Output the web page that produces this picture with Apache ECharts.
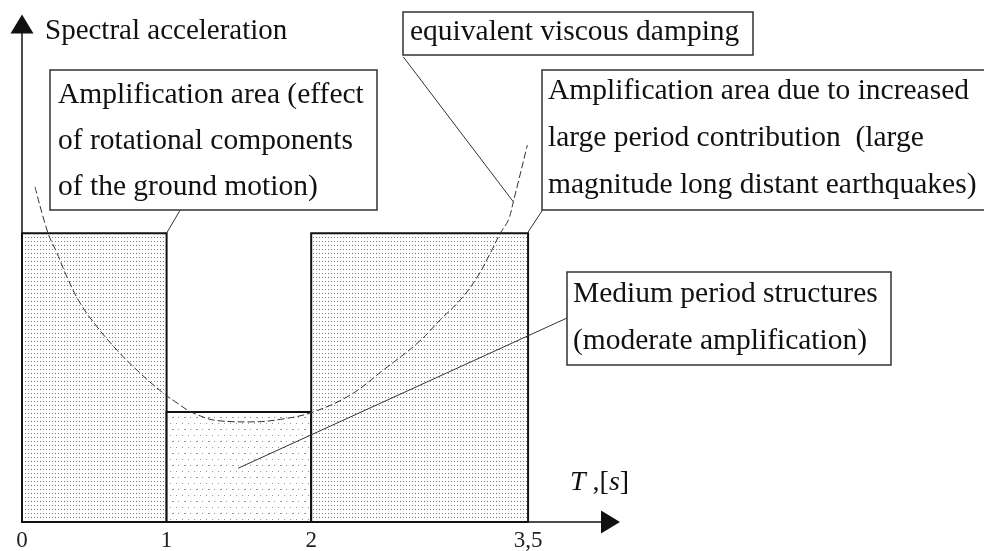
<!DOCTYPE html>
<html>
<head>
<meta charset="utf-8">
<script src="https://cdn.jsdelivr.net/npm/echarts@6/dist/echarts.min.js"></script>
<style>
  html, body { margin: 0; padding: 0; background: #fff; }
  #main { width: 984px; height: 551px; }
</style>
</head>
<body>
<div id="main"></div>
<script>
// period axis ticks
var tickValues = [0, 1, 2, 3.5];
var tickLabels = ["0", "1", "2", "3,5"];

// period bands: start, end, spectral acceleration level
var bandStart = [0, 1, 2];
var bandEnd = [1, 2, 3.5];
var bandLevel = [58, 22.1, 58];

// equivalent viscous damping curve
var curveT = [0.09, 0.18, 0.242, 0.311, 0.401, 0.519, 0.657, 0.817, 0.976, 1.073, 1.183, 1.37, 1.578, 1.806, 2.014, 2.27, 2.498, 2.734, 2.893, 3.031, 3.149, 3.239, 3.308, 3.363, 3.398, 3.495];
var curveA = [67.3, 58.0, 54.0, 49.2, 44.0, 39.2, 34.5, 29.9, 25.9, 23.9, 21.9, 20.3, 20.1, 20.7, 22.1, 25.5, 30.5, 35.9, 40.6, 44.6, 49.2, 54.0, 58.0, 60.6, 64.3, 75.7];

// leader lines from the notes to the chart [t0, a0, t1, a1]
var leaderRotational = [1.093, 62.6, 1.0, 58.0];
var leaderDamping = [2.637, 93.4, 3.398, 64.3];
var leaderLongPeriod = [3.599, 62.6, 3.495, 58.0];
var leaderMedium = [3.772, 41.0, 1.495, 10.8];

function makePattern(w, h, dots, color) {
  var c = document.createElement("canvas");
  c.width = w;
  c.height = h;
  var ctx = c.getContext("2d");
  ctx.fillStyle = "#fff";
  ctx.fillRect(0, 0, w, h);
  ctx.fillStyle = color;
  dots.forEach(function (d) {
    ctx.fillRect(d[0], d[1], 1, 1);
  });
  return { image: c, repeat: "repeat" };
}

var densePattern = makePattern(3, 4, [[1, 1]], "#7a7a7a");
var sparsePattern = makePattern(12, 12, [[2, 3], [8, 3], [4, 9], [5, 9], [10, 9]], "#999");

var serif = '"Liberation Serif", "DejaVu Serif", serif';

var graphics = [];
function addNote(x, y, w, h, lines, tx, ty, gap) {
  graphics.push({
    type: "rect",
    z: 100,
    shape: { x: x, y: y, width: w, height: h },
    style: { fill: "#fff", stroke: "#333", lineWidth: 1.5 }
  });
  lines.forEach(function (t, i) {
    graphics.push({
      type: "text",
      z: 101,
      x: tx,
      y: ty + i * gap,
      style: { text: t, font: "29.5px " + serif, fill: "#111", verticalAlign: "middle" }
    });
  });
}

addNote(50, 70, 327, 140, ["Amplification area (effect", "of rotational components", "of the ground motion)"], 58, 95, 46);
addNote(403, 12, 350, 43, ["equivalent viscous damping"], 410, 32, 0);
addNote(542, 70, 460, 140, ["Amplification area due to increased", "large period contribution  (large", "magnitude long distant earthquakes)"], 548, 91, 47);
addNote(567, 272, 324, 93, ["Medium period structures", "(moderate amplification)"], 573, 294, 47);

graphics.push({
  type: "text",
  x: 45,
  y: 31,
  style: { text: "Spectral acceleration", font: "29px " + serif, fill: "#111", verticalAlign: "middle" }
});
graphics.push({
  type: "text",
  x: 570,
  y: 483,
  style: {
    text: "{i|T}{n| ,[}{i|s}{n|]}",
    verticalAlign: "middle",
    rich: {
      i: { font: "italic 28px " + serif, fill: "#111" },
      n: { font: "28px " + serif, fill: "#111" }
    }
  }
});

function leader(p) {
  return {
    type: "line",
    data: [[p[0], p[1]], [p[2], p[3]]],
    showSymbol: false,
    silent: true,
    z: 5,
    lineStyle: { color: "#333", width: 1 }
  };
}

var myChart = echarts.init(document.getElementById("main"));
myChart.setOption({
  animation: false,
  backgroundColor: "#fff",
  grid: {
    left: 22,
    right: 373.5,
    top: 24,
    bottom: 29,
    outerBoundsMode: "none"
  },
  xAxis: {
    type: "value",
    min: 0,
    max: 4.07,
    axisLine: {
      show: true,
      symbol: ["none", "triangle"],
      symbolSize: [23, 19],
      lineStyle: { color: "#111", width: 1.5 }
    },
    axisTick: { show: false },
    splitLine: { show: false },
    axisLabel: {
      customValues: tickValues,
      formatter: function (v) {
        var i = tickValues.indexOf(v);
        return i >= 0 ? tickLabels[i] : "";
      },
      fontFamily: serif,
      fontSize: 23,
      color: "#222",
      margin: 7
    }
  },
  yAxis: {
    type: "value",
    min: 0,
    max: 100,
    axisLine: {
      show: true,
      symbol: ["none", "triangle"],
      symbolSize: [23, 19],
      lineStyle: { color: "#111", width: 1.5 }
    },
    axisTick: { show: false },
    axisLabel: { show: false },
    splitLine: { show: false }
  },
  series: [
    {
      type: "custom",
      z: 1,
      data: bandStart.map(function (s, i) {
        return [s, bandEnd[i], bandLevel[i], i === 1 ? 1 : 0];
      }),
      encode: { x: [0, 1], y: 2 },
      renderItem: function (params, api) {
        var p0 = api.coord([api.value(0), api.value(2)]);
        var p1 = api.coord([api.value(1), 0]);
        return {
          type: "rect",
          shape: { x: p0[0], y: p0[1], width: p1[0] - p0[0], height: p1[1] - p0[1] },
          style: {
            fill: api.value(3) === 1 ? sparsePattern : densePattern,
            stroke: "#111",
            lineWidth: 2
          }
        };
      }
    },
    {
      type: "line",
      z: 4,
      data: curveT.map(function (t, i) { return [t, curveA[i]]; }),
      smooth: 0.4,
      showSymbol: false,
      silent: true,
      lineStyle: { color: "#333", width: 1, type: [7, 3] }
    },
    leader(leaderRotational),
    leader(leaderDamping),
    leader(leaderLongPeriod),
    leader(leaderMedium)
  ],
  graphic: graphics
});
</script>
</body>
</html>
